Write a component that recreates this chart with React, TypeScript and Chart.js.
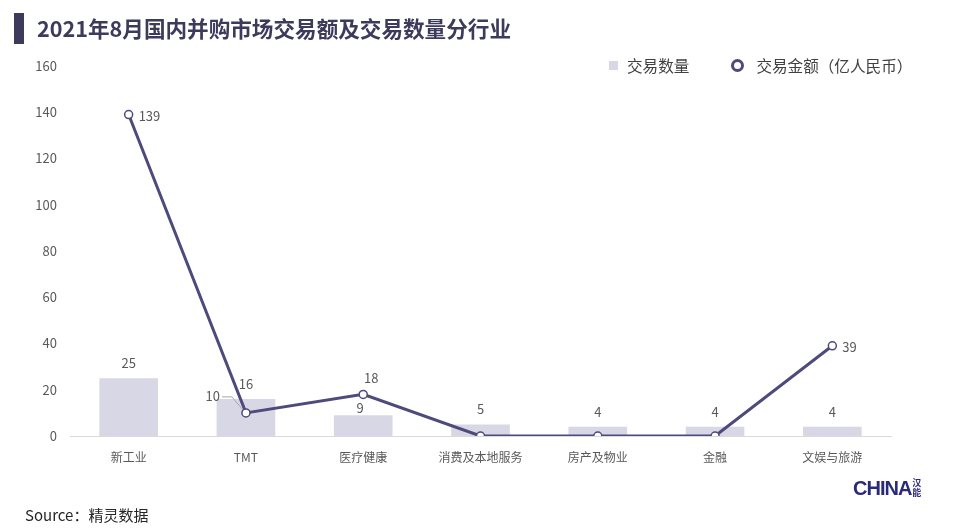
import React, { useEffect, useRef } from "react";
import { Chart, registerables } from "chart.js";

Chart.register(...registerables);

const categories = ["新工业", "TMT", "医疗健康", "消费及本地服务", "房产及物业", "金融", "文娱与旅游"];
const dealCounts = [25, 16, 9, 5, 4, 4, 4];
const dealAmounts = [139, 10, 18, 0, 0, 0, 39];
const yMin = 0;
const yMax = 160;
const yStep = 20;
const amountLabelShown = [true, true, true, false, false, false, true];

const LINE_COLOR = "#4d4a7c";
const BAR_COLOR = "#d8d7e6";
const LABEL_COLOR = "#595959";
const FONT = "'Noto Sans CJK SC', 'Noto Sans', sans-serif";

const labelPlugin = {
  id: "labels",
  afterDatasetsDraw(chart: any) {
    const ctx = chart.ctx;
    ctx.save();
    ctx.font = `13px ${FONT}`;
    ctx.fillStyle = LABEL_COLOR;
    ctx.textBaseline = "middle";
    const barMeta = chart.getDatasetMeta(0);
    barMeta.data.forEach((el: any, i: number) => {
      const off = i === 2 ? 7 : 15;
      ctx.textAlign = "center";
      ctx.fillText(String(dealCounts[i]), el.x - (i === 2 ? 3 : 0), el.y - off);
    });
    const lineMeta = chart.getDatasetMeta(1);
    lineMeta.data.forEach((el: any, i: number) => {
      if (!amountLabelShown[i]) return;
      const txt = String(dealAmounts[i]);
      if (i === 1) {
        ctx.textAlign = "right";
        ctx.fillText(txt, el.x - 26, el.y - 17);
        ctx.strokeStyle = "#a6a6a6";
        ctx.lineWidth = 1;
        ctx.beginPath();
        ctx.moveTo(el.x - 24, el.y - 16);
        ctx.lineTo(el.x - 14, el.y - 16);
        ctx.lineTo(el.x - 3, el.y - 3);
        ctx.stroke();
      } else if (i === 2) {
        ctx.textAlign = "center";
        ctx.fillText(txt, el.x + 8, el.y - 16);
      } else {
        ctx.textAlign = "left";
        ctx.fillText(txt, el.x + 10, el.y + 1);
      }
    });
    ctx.restore();
  },
};

export default function App() {
  const ref = useRef<HTMLCanvasElement>(null);
  useEffect(() => {
    document.body.style.margin = "0";
    const chart = new Chart(ref.current!, {
      type: "bar",
      data: {
        labels: categories,
        datasets: [
          {
            type: "bar",
            label: "交易数量",
            data: dealCounts,
            backgroundColor: BAR_COLOR,
            categoryPercentage: 1,
            barPercentage: 0.5,
            order: 2,
          },
          {
            type: "line",
            label: "交易金额（亿人民币）",
            data: dealAmounts,
            borderColor: LINE_COLOR,
            borderWidth: 3,
            pointRadius: 4,
            pointBackgroundColor: "#ffffff",
            pointBorderColor: LINE_COLOR,
            pointBorderWidth: 1.5,
            tension: 0,
            order: 1,
          } as any,
        ],
      },
      options: {
        animation: false,
        responsive: false,
        maintainAspectRatio: false,
        layout: { padding: { top: 66, left: 0, right: 68, bottom: 64 } },
        plugins: { legend: { display: false }, tooltip: { enabled: false } },
        scales: {
          x: {
            grid: { display: false, drawTicks: false },
            border: { display: true, color: "#d9d9d9", width: 1 },
            ticks: { color: LABEL_COLOR, font: { family: FONT, size: 12 }, padding: 14, maxRotation: 0 },
            afterFit: (s: any) => { s.height = 30; },
          },
          y: {
            min: yMin,
            max: yMax,
            grid: { display: false, drawTicks: false },
            border: { display: false },
            ticks: { stepSize: yStep, color: LABEL_COLOR, font: { family: FONT, size: 13 }, padding: 13 },
            afterFit: (s: any) => { s.width = 70; },
          },
        },
      },
      plugins: [labelPlugin],
    });
    return () => chart.destroy();
  }, []);

  return (
    <div style={{ position: "relative", width: 959, height: 530, background: "#fff", fontFamily: FONT, overflow: "hidden" }}>
      <canvas ref={ref} width={959} height={530} style={{ position: "absolute", left: 0, top: 0 }} />
      <div style={{ position: "absolute", left: 14, top: 13, width: 10, height: 31, background: "#3d3b5c" }} />
      <div style={{ position: "absolute", left: 37, top: 14, fontSize: 21.6, fontWeight: 700, color: "#3d3b5c", lineHeight: "28px", whiteSpace: "nowrap" }}>
        2021年8月国内并购市场交易额及交易数量分行业
      </div>
      <div style={{ position: "absolute", left: 609, top: 54, display: "flex", alignItems: "center", height: 22, fontSize: 15.6, color: "#404040", whiteSpace: "nowrap" }}>
        <span style={{ display: "inline-block", width: 9, height: 9, background: BAR_COLOR, marginRight: 9 }} />
        <span>交易数量</span>
        <span style={{ display: "inline-block", width: 7, height: 7, borderRadius: "50%", border: `3px solid ${LINE_COLOR}`, marginLeft: 42, marginRight: 12 }} />
        <span>交易金额（亿人民币）</span>
      </div>
      <div style={{ position: "absolute", left: 25, top: 505, fontSize: 15, color: "#262626", whiteSpace: "nowrap", lineHeight: "20px" }}>
        Source：精灵数据
      </div>
      <div style={{ position: "absolute", left: 853, top: 476, display: "flex", alignItems: "center", whiteSpace: "nowrap" }}>
        <span style={{ fontFamily: "'Liberation Sans', Arial, sans-serif", fontWeight: 700, fontSize: 20, color: "#2b2a7a", letterSpacing: -1, lineHeight: "24px" }}>CHINA</span>
        <span style={{ display: "flex", flexDirection: "column", fontSize: 9, lineHeight: "10px", color: "#2b2a7a", marginLeft: 1, fontWeight: 700 }}>
          <span>汉</span>
          <span>能</span>
        </span>
      </div>
    </div>
  );
}
